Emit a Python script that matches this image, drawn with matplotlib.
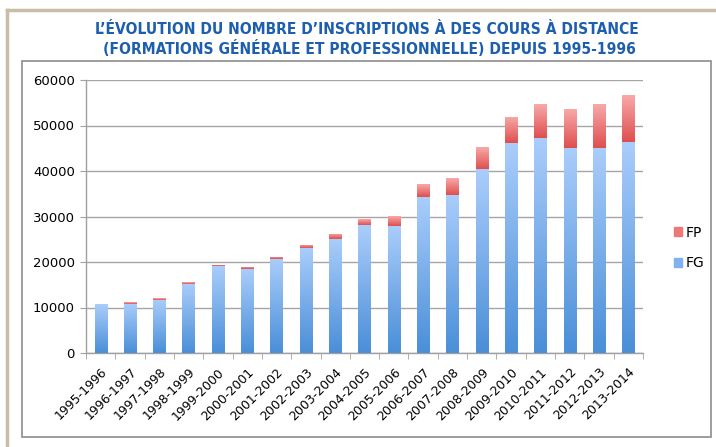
import numpy as np
import matplotlib.pyplot as plt
import matplotlib.transforms as mtransforms
from matplotlib.colors import LinearSegmentedColormap
from matplotlib.patches import Rectangle
from matplotlib.lines import Line2D

years = ['1995-1996', '1996-1997', '1997-1998', '1998-1999', '1999-2000',
         '2000-2001', '2001-2002', '2002-2003', '2003-2004', '2004-2005',
         '2005-2006', '2006-2007', '2007-2008', '2008-2009', '2009-2010',
         '2010-2011', '2011-2012', '2012-2013', '2013-2014']
fg = [10700, 10850, 11730, 15250, 19060, 18480, 20670, 23090, 25150, 28080,
      27950, 34380, 34750, 40400, 46110, 47290, 45160, 45160, 46410]
fp = [80, 300, 300, 300, 300, 450, 500, 750, 1100, 1300,
      2100, 2800, 3670, 4830, 5800, 7330, 8500, 9460, 10190]
yticks = [0, 10000, 20000, 30000, 40000, 50000, 60000]

W, H = 716, 447
fig = plt.figure(figsize=(W / 100, H / 100), dpi=100)
fig.patch.set_facecolor('white')

# outer tan frame + inner grey chart box
fig.add_artist(Line2D([7 / W, 7 / W], [0, 1 - 10 / H], color='#c9bda8', lw=2.5))
fig.add_artist(Line2D([7 / W, 1], [1 - 10 / H, 1 - 10 / H], color='#c9bda8', lw=2.5))
fig.add_artist(Rectangle((22 / W, 1 - 437 / H), (711 - 22) / W, (437 - 61) / H,
                         fill=False, ec='#8c8c8c', lw=1.2))

fig.text(367 / W, 1 - 30 / H,
         "L\u2019ÉVOLUTION DU NOMBRE D\u2019INSCRIPTIONS À DES COURS À DISTANCE",
         ha='center', va='center', color='#1d5fae', fontsize=11.2,
         fontweight='bold', fontstretch='condensed', family='DejaVu Sans')
fig.text(369 / W, 1 - 48 / H,
         "(FORMATIONS GÉNÉRALE ET PROFESSIONNELLE) DEPUIS 1995-1996",
         ha='center', va='center', color='#1d5fae', fontsize=11.2,
         fontweight='bold', fontstretch='condensed', family='DejaVu Sans')

ax = fig.add_axes([86 / W, 1 - 353 / H, (643 - 86) / W, (353 - 80) / H])
x = np.arange(len(years))
width = 0.42

blue = LinearSegmentedColormap.from_list('b', ['#4a8fd8', '#aacdfb'])
red = LinearSegmentedColormap.from_list('r', ['#df4f4f', '#f8a9a9'])
grad = np.linspace(0, 1, 100).reshape(-1, 1)

bars_fg = ax.bar(x, fg, width, color='#7fb2ee', zorder=2)
bars_fp = ax.bar(x, fp, width, bottom=fg, color='#ee8080', zorder=2)
for bars, cmap in ((bars_fg, blue), (bars_fp, red)):
    for b in bars:
        x0, y0 = b.get_x(), b.get_y()
        im = ax.imshow(grad, cmap=cmap, origin='lower', aspect='auto',
                       extent=[x0, x0 + b.get_width(), y0, y0 + b.get_height()],
                       zorder=3)
        im.set_clip_path(b)

ax.set_xlim(-0.5, len(years) - 0.5)
ax.set_ylim(0, 60000)
ax.set_yticks(yticks)
ax.set_yticklabels([str(v) for v in yticks], fontsize=9.5)
ax.set_xticks(x)
ax.set_xticklabels(years, rotation=45, ha='right', va='top',
                   rotation_mode='anchor', fontsize=9)
shift = mtransforms.ScaledTranslation(-4 / 100, -1 / 100, fig.dpi_scale_trans)
for lbl in ax.get_xticklabels():
    lbl.set_transform(lbl.get_transform() + shift)
ax.set_xticks(np.arange(len(years) + 1) - 0.5, minor=True)
ax.tick_params(axis='x', which='major', length=0, pad=9)
ax.tick_params(axis='x', which='minor', length=4, color='#a0a0a0', direction='out')
ax.tick_params(axis='y', length=4, color='#a0a0a0', direction='out', pad=4)
ax.grid(axis='y', color='#a5a5a5', lw=1, zorder=0)
ax.set_axisbelow(True)
for s in ('top', 'right'):
    ax.spines[s].set_visible(False)
for s in ('left', 'bottom'):
    ax.spines[s].set_color('#a0a0a0')
    ax.spines[s].set_linewidth(1)

handles = [Rectangle((0, 0), 1, 1, color='#ee7878'),
           Rectangle((0, 0), 1, 1, color='#7fb2ee')]
fig.legend(handles, ['FP', 'FG'], loc='center left',
           bbox_to_anchor=(661 / W, 1 - 248 / H), frameon=False,
           fontsize=10, handlelength=0.6, handleheight=0.6,
           handletextpad=0.3, labelspacing=1.2)

fig.savefig('out.png', dpi=100)
